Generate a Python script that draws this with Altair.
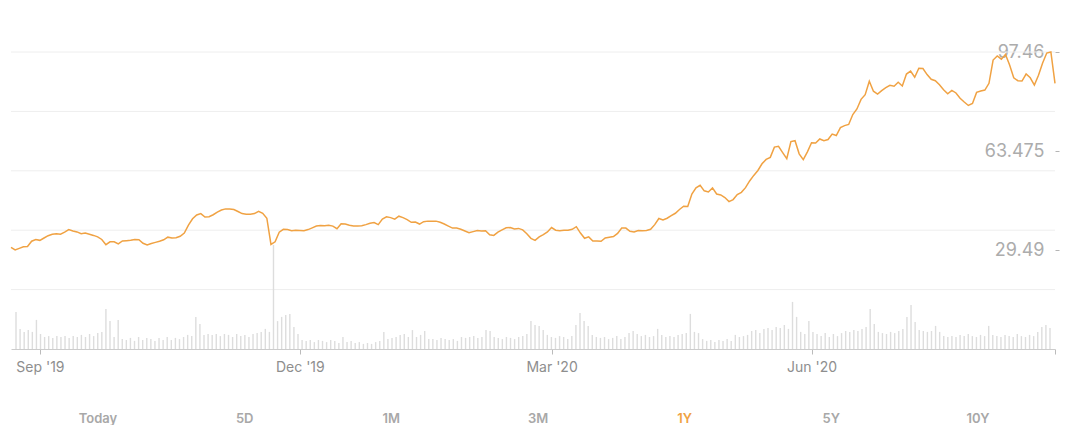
import json
import altair as alt
import pandas as pd

# ---- data (trading-day index, price, volume in millions) ----
prices = [
    30.4, 29.49, 30.05, 30.6, 30.7, 32.5, 33.1, 32.8, 33.6, 34.4,
    34.9, 35.1, 34.9, 35.6, 36.5, 36.0, 35.7, 35.1, 35.3, 34.9,
    34.5, 34.0, 33.1, 31.3, 32.3, 32.3, 31.6, 32.6, 32.7, 32.8,
    33.1, 33.0, 31.8, 31.2, 31.7, 32.1, 32.5, 33.0, 33.9,
    33.6, 33.7, 34.2, 35.3, 38.0, 40.2, 41.5, 42.0, 40.8, 40.9,
    41.6, 42.5, 43.2, 43.6, 43.6, 43.4, 42.7, 42.0, 41.8, 41.8,
    42.0, 42.8, 42.1, 40.4, 31.4, 32.3, 35.6, 36.6, 36.5, 36.1,
    36.3, 36.2, 36.1, 36.5, 37.1, 37.7, 37.9, 37.8, 38.0, 37.7,
    36.8, 38.5, 38.4, 38.0, 37.7, 37.7, 37.8, 38.2, 38.7, 38.9,
    38.2, 40.1, 40.9, 40.6, 40.1, 41.1, 40.6, 39.9, 39.0, 39.1,
    38.4, 39.2, 39.4, 39.4, 39.4, 39.0, 38.4, 37.7, 37.0, 37.0,
    36.6, 36.0, 35.4, 35.8, 36.2, 36.0, 36.1, 34.7, 34.5, 35.6,
    36.4, 37.1, 37.2, 36.7, 36.9, 36.4, 35.1, 33.5, 32.8, 34.0,
    34.8, 35.7, 37.2, 36.3, 36.1, 36.3, 36.3, 36.6, 37.5, 35.3,
    33.5, 34.0, 32.6, 32.6, 32.5, 33.6, 33.9, 34.1, 35.2, 37.0,
    37.0, 35.9, 35.7, 36.2, 36.1, 36.2, 36.6, 38.2, 40.3, 39.8,
    40.4, 41.3, 42.1, 43.4, 44.5, 44.4, 48.7, 50.8, 51.7, 49.8,
    49.4, 50.8, 48.7, 48.4, 47.5, 46.1, 46.8, 48.5, 49.3, 50.9,
    53.2, 55.1, 56.8, 59.1, 60.6, 61.3, 64.8, 65.1, 62.9, 60.8,
    66.7, 67.0, 62.5, 60.5, 63.2, 66.3, 66.2, 67.6, 67.0, 67.4,
    69.3, 68.8, 71.5, 72.2, 72.6, 76.0, 77.9, 81.2, 82.8, 87.4,
    84.0, 83.0, 84.2, 85.2, 86.0, 85.7, 87.1, 85.8, 89.9, 90.9,
    88.8, 91.9, 91.8, 89.7, 88.1, 87.6, 86.2, 84.5, 83.1, 84.3,
    83.4, 81.6, 80.3, 79.1, 79.8, 83.6, 84.1, 84.4, 86.7, 94.7,
    96.1, 95.0, 96.6, 93.0, 88.6, 87.6, 87.5, 89.9, 88.6, 86.1,
    89.5, 93.7, 97.1, 97.46, 86.7,
]

volumes = [
    12.3, 6.7, 5.7, 6.3, 5.7, 9.7, 5.0, 4.0, 4.3, 3.7,
    4.3, 4.0, 4.3, 3.7, 4.3, 4.0, 4.7, 4.0, 5.0, 4.3,
    5.3, 5.7, 13.3, 9.3, 4.0, 9.7, 3.3, 3.0, 3.7, 2.7,
    4.0, 3.0, 3.7, 3.3, 2.7, 3.7, 3.0, 4.0, 3.0, 3.7,
    3.3, 4.0, 4.7, 4.3, 10.7, 8.3, 4.7, 5.0, 4.7, 5.0,
    4.3, 5.0, 4.7, 4.0, 5.0, 4.3, 4.7, 4.0, 5.0, 5.3,
    5.7, 6.7, 5.7, 34.7, 9.3, 10.7, 11.3, 11.7, 7.3, 5.0,
    3.0, 2.7, 3.0, 2.3, 3.0, 2.7, 2.3, 3.0, 2.7, 2.0,
    4.0, 2.3, 2.7, 2.0, 2.3, 1.7, 2.0, 1.7, 2.3, 2.7,
    5.7, 3.3, 3.7, 4.0, 4.7, 5.0, 4.0, 6.3, 4.0, 4.7,
    6.0, 3.3, 3.3, 3.0, 3.7, 3.3, 3.0, 3.3, 2.7, 4.0,
    3.7, 4.0, 4.3, 3.7, 4.0, 6.3, 6.0, 4.0, 3.7, 3.3,
    4.0, 3.7, 3.3, 4.0, 4.3, 5.0, 9.3, 8.0, 7.7, 6.3,
    4.7, 4.0, 3.7, 4.3, 4.0, 3.3, 4.3, 8.0, 12.0, 9.3,
    7.7, 4.7, 4.0, 3.7, 4.0, 3.3, 3.7, 4.3, 3.3, 4.0,
    5.3, 6.0, 5.0, 4.3, 4.7, 4.0, 4.3, 6.7, 4.7, 4.0,
    4.3, 4.0, 4.7, 5.0, 5.3, 11.7, 5.7, 5.3, 3.3, 2.7,
    3.0, 2.3, 3.0, 2.7, 3.3, 2.7, 4.7, 4.0, 4.3, 4.7,
    6.0, 6.3, 5.3, 6.7, 7.0, 6.3, 7.3, 7.0, 8.0, 6.7,
    15.7, 10.7, 5.7, 5.0, 9.3, 5.7, 5.0, 4.3, 5.3, 4.0,
    5.0, 4.3, 5.3, 6.0, 5.7, 6.3, 6.0, 6.7, 7.3, 13.3,
    8.3, 5.7, 5.3, 5.0, 5.7, 5.3, 6.0, 6.7, 10.7, 14.7,
    9.0, 6.3, 6.0, 5.7, 6.0, 7.7, 5.7, 4.3, 4.0, 4.3,
    4.0, 4.7, 4.3, 5.0, 4.3, 4.0, 4.7, 4.3, 7.7, 4.7,
    4.3, 4.0, 4.7, 4.3, 4.0, 5.0, 4.3, 4.0, 4.7, 4.3,
    5.7, 7.3, 8.0, 7.0,
]

tick_index = [7, 70, 131, 194, 253]
tick_labels = ["Sep '19", "Dec '19", "Mar '20", "Jun '20", ""]
price_labels = [29.49, 63.475, 97.46]
grid_steps = [1, 2, 3, 4, 5]
tabs = ["Today", "5D", "1M", "3M", "1Y", "5Y", "10Y"]
active_tab = "1Y"

# ---- styling ----
ORANGE = "#F0A243"
FONT = "Inter"
N = len(prices)
last = N - 1

price_df = pd.DataFrame({"idx": list(range(N)), "price": prices})
vol_df = pd.DataFrame({"idx": list(range(len(volumes))), "volume": volumes})
grid_df = pd.DataFrame({"g": grid_steps})
tab_df = pd.DataFrame({"tab": tabs})

lo, hi = min(price_labels), max(price_labels)
half = (hi - lo) / 2
price_domain = [lo - half, hi]

label_expr = ""
for v, t in zip(tick_index, tick_labels):
    label_expr += f"datum.value == {v} ? {json.dumps(t)} : "
label_expr += "''"

x_scale = alt.Scale(domain=[0, last], nice=False, zero=False)

grid = alt.Chart(grid_df).mark_rule(color="#eeeeee", strokeWidth=1).encode(
    y=alt.Y("g:Q", scale=alt.Scale(domain=[0, len(grid_steps)], nice=False), axis=None)
)

vol = alt.Chart(vol_df).mark_bar(width=1.4, color="#dddddd").encode(
    x=alt.X("idx:Q", scale=x_scale, axis=None),
    y=alt.Y("volume:Q", scale=alt.Scale(domain=[0, 99], nice=False), axis=None),
)

line = alt.Chart(price_df).mark_line(color=ORANGE, strokeWidth=1.5).encode(
    x=alt.X(
        "idx:Q",
        scale=x_scale,
        title=None,
        axis=alt.Axis(
            values=tick_index,
            labelExpr=label_expr,
            grid=False,
            domain=True,
            domainColor="#cccccc",
            domainWidth=1,
            ticks=True,
            tickColor="#bbbbbb",
            tickSize=5,
            labelColor="#8e8e8e",
            labelFontSize=14,
            labelFont=FONT,
            labelPadding=6,
            labelFlush=False,
            labelOverlap=False,
        ),
    ),
    y=alt.Y(
        "price:Q",
        scale=alt.Scale(domain=price_domain, nice=False, zero=False),
        title=None,
        axis=alt.Axis(
            orient="right",
            values=price_labels,
            labelExpr="format(datum.value, '.6~r')",
            grid=False,
            domain=False,
            ticks=True,
            tickSize=4,
            tickColor="#b5b5b5",
            labelAlign="right",
            labelBaseline="middle",
            labelPadding=-15,
            labelFontSize=18,
            labelFont=FONT,
            labelColor="#acacac",
            labelFlush=False,
            labelOverlap=False,
        ),
    ),
)

tab_text = alt.Chart(tab_df).mark_text(
    fontSize=13, fontWeight=600, font=FONT, baseline="middle", align="center"
).encode(
    x=alt.X(
        "tab:N",
        scale=alt.Scale(type="point", domain=tabs, range=[87, 967], padding=0),
        axis=None,
    ),
    y=alt.value(367),
    text="tab:N",
    color=alt.condition(alt.datum.tab == active_tab, alt.value(ORANGE), alt.value("#a8a8a8")),
)

chart = (
    alt.layer(grid, vol, line, tab_text)
    .resolve_scale(x="independent", y="independent")
    .properties(
        width=1044,
        height=297,
        autosize=alt.AutoSizeParams(type="none"),
        padding={"left": 3, "top": 44, "right": 17, "bottom": 76},
        background="white",
    )
    .configure_view(stroke=None)
)

chart.save("out.html", embed_options={"renderer": "svg", "actions": False})
